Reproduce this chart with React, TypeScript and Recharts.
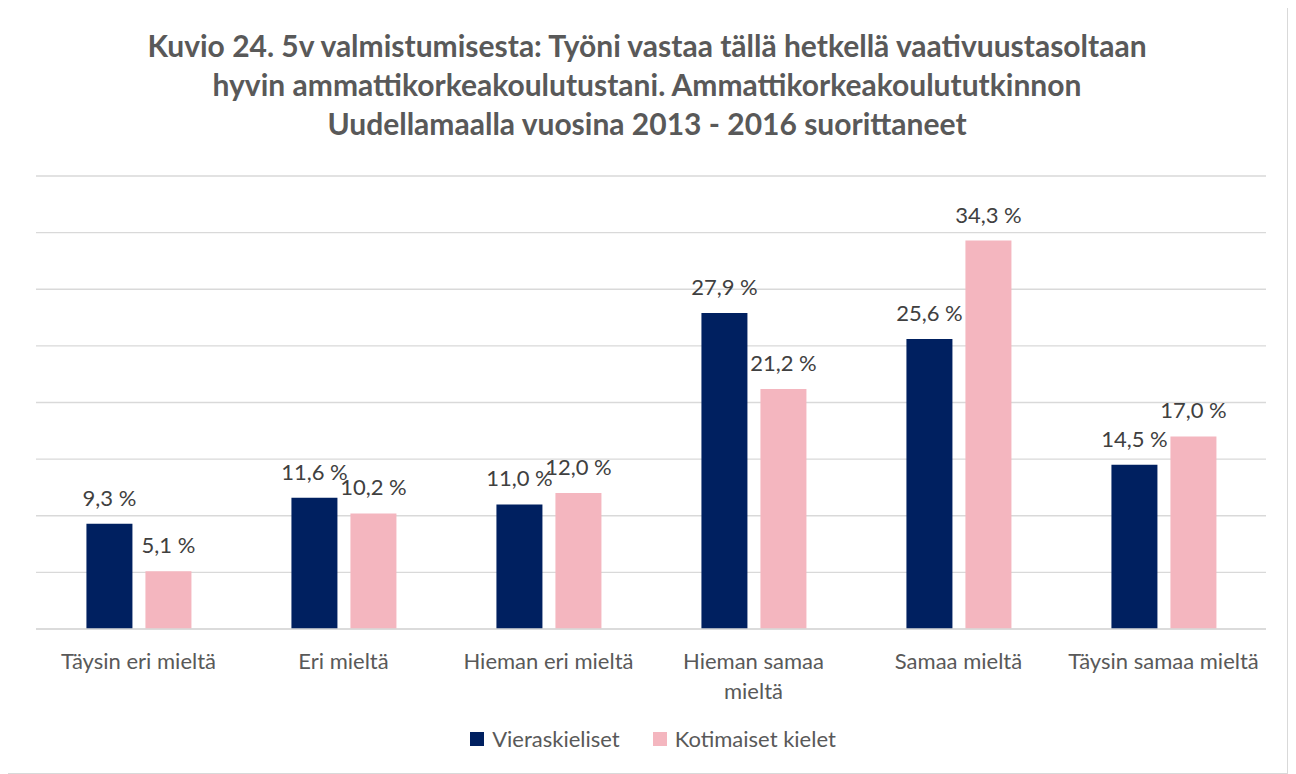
import React from "react";
import {
  BarChart,
  Bar,
  XAxis,
  YAxis,
  CartesianGrid,
  LabelList,
} from "recharts";

const categories = [
  "Täysin eri mieltä",
  "Eri mieltä",
  "Hieman eri mieltä",
  "Hieman samaa mieltä",
  "Samaa mieltä",
  "Täysin samaa mieltä",
];
const vieraskieliset = [9.3, 11.6, 11.0, 27.9, 25.6, 14.5];
const kotimaiset = [5.1, 10.2, 12.0, 21.2, 34.3, 17.0];
const yTicks = [0, 5, 10, 15, 20, 25, 30, 35, 40];

const titleLines = [
  "Kuvio 24. 5v valmistumisesta: Työni vastaa tällä hetkellä vaativuustasoltaan",
  "hyvin ammattikorkeakoulutustani. Ammattikorkeakoulututkinnon",
  "Uudellamaalla vuosina 2013 - 2016 suorittaneet",
];

const series = [
  { key: "vieras", name: "Vieraskieliset", color: "#002060" },
  { key: "koti", name: "Kotimaiset kielet", color: "#F4B6BF" },
];

const data = categories.map((c, i) => ({
  category: c,
  vieras: vieraskieliset[i],
  koti: kotimaiset[i],
}));

const FONT = "Lato, 'Open Sans', sans-serif";
const fmt = (v: any) => Number(v).toFixed(1).replace(".", ",") + " %";

let ctx: CanvasRenderingContext2D | null = null;
function wrap(text: string, maxWidth: number, font: string): string[] {
  if (!ctx) ctx = document.createElement("canvas").getContext("2d");
  if (!ctx) return [text];
  ctx.font = font;
  const words = text.split(" ");
  const lines: string[] = [];
  let cur = "";
  for (const w of words) {
    const test = cur ? cur + " " + w : w;
    if (cur && ctx.measureText(test).width > maxWidth) {
      lines.push(cur);
      cur = w;
    } else {
      cur = test;
    }
  }
  if (cur) lines.push(cur);
  return lines;
}

const CategoryTick = (props: any) => {
  const { x, y, payload } = props;
  const lines = wrap(payload.value, 198, "22px Lato");
  return (
    <text
      x={x}
      y={y + 32}
      textAnchor="middle"
      fill="#595959"
      fontSize={22}
      fontFamily={FONT}
    >
      {lines.map((l, i) => (
        <tspan key={i} x={x} dy={i === 0 ? 0 : 30}>
          {l}
        </tspan>
      ))}
    </text>
  );
};

const ValueLabel = (props: any) => {
  const { x, y, width, value } = props;
  return (
    <text
      x={x + width / 2}
      y={y - 18}
      textAnchor="middle"
      fill="#404040"
      fontSize={22}
      fontFamily={FONT}
    >
      {fmt(value)}
    </text>
  );
};

export default function App() {
  return (
    <div
      style={{
        position: "relative",
        width: 1280,
        height: 766,
        border: "1px solid #d9d9d9",
        marginLeft: -2,
        marginTop: -2,
        background: "#fff",
        fontFamily: FONT,
      }}
    >
      <div
        style={{
          position: "absolute",
          top: 19,
          left: 0,
          width: 1280,
          textAlign: "center",
          fontWeight: 700,
          fontSize: 30,
          lineHeight: "39px",
          color: "#595959",
        }}
      >
        {titleLines.map((l, i) => (
          <div key={i}>{l}</div>
        ))}
      </div>
      <div style={{ position: "absolute", top: 0, left: 0 }}>
        <BarChart
          width={1280}
          height={766}
          data={data}
          margin={{ top: 169, right: 21, bottom: 64, left: 29 }}
          barCategoryGap="24.6%"
          barGap={13}
        >
          <CartesianGrid vertical={false} stroke="#d9d9d9" strokeWidth={1.3} />
          <XAxis
            dataKey="category"
            axisLine={{ stroke: "#d9d9d9", strokeWidth: 1.3 }}
            tickLine={false}
            height={80}
            interval={0}
            tick={<CategoryTick />}
          />
          <YAxis hide domain={[0, 40]} ticks={yTicks} />
          {series.map((s) => (
            <Bar
              key={s.key}
              dataKey={s.key}
              name={s.name}
              fill={s.color}
              isAnimationActive={false}
            >
              <LabelList dataKey={s.key} content={<ValueLabel />} />
            </Bar>
          ))}
        </BarChart>
      </div>
      <div
        style={{
          position: "absolute",
          top: 718,
          left: 6,
          width: 1280,
          display: "flex",
          justifyContent: "center",
          gap: 33,
          fontSize: 22,
          color: "#595959",
        }}
      >
        {series.map((s) => (
          <div key={s.key} style={{ display: "flex", alignItems: "center", gap: 8 }}>
            <div style={{ width: 14, height: 14, background: s.color }} />
            <span>{s.name}</span>
          </div>
        ))}
      </div>
    </div>
  );
}
